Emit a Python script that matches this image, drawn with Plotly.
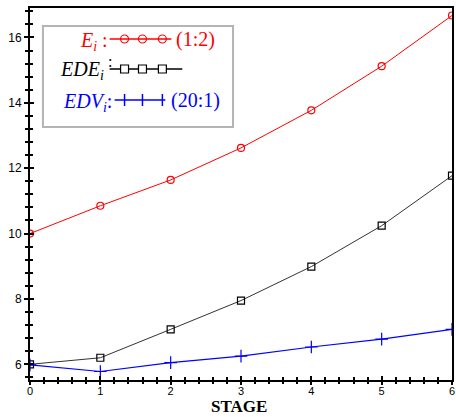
import plotly.graph_objects as go

stage = [0, 1, 2, 3, 4, 5, 6]
E_vals = [10.0, 10.85, 11.64, 12.62, 13.77, 15.12, 16.67]
EDE_vals = [6.0, 6.2, 7.07, 7.95, 8.99, 10.24, 11.77]
EDV_vals = [5.98, 5.78, 6.05, 6.25, 6.53, 6.77, 7.07]

W, H = 456, 417
ML, MR, MT, MB = 30, 2, 8, 37
PW, PH = W - ML - MR, H - MT - MB


def px(x):
    return (x - ML) / PW


def py(y):
    return (H - MB - y) / PH


fig = go.Figure()
fig.add_trace(go.Scatter(x=stage, y=E_vals, mode="lines+markers",
                         line=dict(color="#ff0000", width=1),
                         marker=dict(symbol="circle-open", size=7, color="#ff0000", line=dict(width=1.2)),
                         showlegend=False))
fig.add_trace(go.Scatter(x=stage, y=EDE_vals, mode="lines+markers",
                         line=dict(color="#333333", width=1),
                         marker=dict(symbol="square-open", size=7, color="#000000", line=dict(width=1.2)),
                         showlegend=False))
fig.add_trace(go.Scatter(x=stage, y=EDV_vals, mode="lines+markers",
                         line=dict(color="#0000ff", width=1.2),
                         marker=dict(symbol="cross-thin-open", size=9, color="#0000ff", line=dict(width=1.2, color="#0000ff")),
                         showlegend=False))
# invisible trace for overlay axes
fig.add_trace(go.Scatter(x=[0, 6], y=[6, 6], xaxis="x2", yaxis="y2", mode="none",
                         showlegend=False, hoverinfo="skip"))

xr = [0, 6]
yr = [5.52, 16.9]
tickcommon = dict(showgrid=False, zeroline=False, tickcolor="black", ticklen=4, tickwidth=1.5)
fig.update_layout(
    width=W, height=H,
    margin=dict(l=ML, r=MR, t=MT, b=MB),
    paper_bgcolor="white", plot_bgcolor="white",
    xaxis=dict(range=xr, dtick=1, tick0=0, ticks="inside", mirror=True, showline=True,
               linecolor="black", linewidth=2,
               tickfont=dict(family="Liberation Sans", size=11, color="black"),
               minor=dict(dtick=0.2, ticks="inside", ticklen=3, tickcolor="black", tickwidth=1.5),
               **tickcommon),
    yaxis=dict(range=yr, dtick=2, tick0=0, ticks="outside", mirror=True, showline=True,
               linecolor="black", linewidth=2,
               tickfont=dict(family="Liberation Sans", size=12, color="black"),
               minor=dict(dtick=0.4, tick0=0, ticks="outside", ticklen=3, tickcolor="black", tickwidth=1.5),
               **tickcommon),
    xaxis2=dict(range=xr, overlaying="x", dtick=1, tick0=0, ticks="outside", showticklabels=False,
                minor=dict(dtick=0.2, ticks="outside", ticklen=3, tickcolor="black", tickwidth=1.5),
                showline=False, **tickcommon),
    yaxis2=dict(range=yr, overlaying="y", dtick=2, tick0=0, ticks="inside", showticklabels=False,
                minor=dict(dtick=0.4, tick0=0, ticks="inside", ticklen=3, tickcolor="black", tickwidth=1.5),
                showline=False, **tickcommon),
)

shapes = []
annos = []
# legend box
shapes.append(dict(type="rect", xref="paper", yref="paper", x0=px(43), x1=px(234), y0=py(127), y1=py(26),
                   line=dict(color="#b4b4b4", width=2), fillcolor="white", layer="above"))

serif = "Liberation Serif"
FS = 20
rows = [
    dict(y=39, color="#ff0000", text="<i>E<sub>i</sub></i> :", tx=110, l0=110, l1=172, sym="circle", tail="(1:2)", tailx=175),
    dict(y=69, color="#000000", text="<i>EDE<sub>i</sub></i>", tx=106, l0=110, l1=183, sym="square", tail=None, tailx=0),
    dict(y=100, color="#0000ff", text="<i>EDV<sub>i</sub></i>:", tx=114, l0=115, l1=166, sym="plus", tail="(20:1)", tailx=170),
]
for r in rows:
    yc = r["y"]
    annos.append(dict(xref="paper", yref="paper", x=px(r["tx"]), y=py(yc + 2), text=r["text"],
                      showarrow=False, xanchor="right", yanchor="middle",
                      font=dict(family=serif, size=FS, color=r["color"])))
    shapes.append(dict(type="line", xref="paper", yref="paper", x0=px(r["l0"]), x1=px(r["l1"]),
                       y0=py(yc), y1=py(yc), line=dict(color=r["color"], width=1.5), layer="above"))
    for cx in (125, 143, 163):
        if r["sym"] == "circle":
            shapes.append(dict(type="circle", xref="paper", yref="paper", x0=px(cx - 4), x1=px(cx + 4),
                               y0=py(yc + 4), y1=py(yc - 4), line=dict(color=r["color"], width=1.2), layer="above"))
        elif r["sym"] == "square":
            shapes.append(dict(type="rect", xref="paper", yref="paper", x0=px(cx - 4), x1=px(cx + 4),
                               y0=py(yc + 4), y1=py(yc - 4), line=dict(color=r["color"], width=1.2),
                               fillcolor="white", layer="above"))
        else:
            shapes.append(dict(type="line", xref="paper", yref="paper", x0=px(cx), x1=px(cx),
                               y0=py(yc + 6), y1=py(yc - 6), line=dict(color=r["color"], width=1.5), layer="above"))
    if r["tail"]:
        annos.append(dict(xref="paper", yref="paper", x=px(r["tailx"]), y=py(yc), text=r["tail"],
                          showarrow=False, xanchor="left", yanchor="middle",
                          font=dict(family=serif, size=FS, color=r["color"])))
# raised colon for EDE row
annos.append(dict(xref="paper", yref="paper", x=px(110), y=py(62), text=":", showarrow=False,
                  xanchor="center", yanchor="middle", font=dict(family=serif, size=16, color="black")))
# x-axis title
annos.append(dict(xref="paper", yref="paper", x=px(240), y=py(406), text="<b>STAGE</b>", showarrow=False,
                  xanchor="center", yanchor="middle", borderpad=0,
                  font=dict(family=serif, size=17, color="black")))

fig.update_layout(shapes=shapes, annotations=annos)
fig.write_html("out.html", config={"displayModeBar": False},
               post_script="document.body.style.margin='0';document.body.style.overflow='hidden';")
